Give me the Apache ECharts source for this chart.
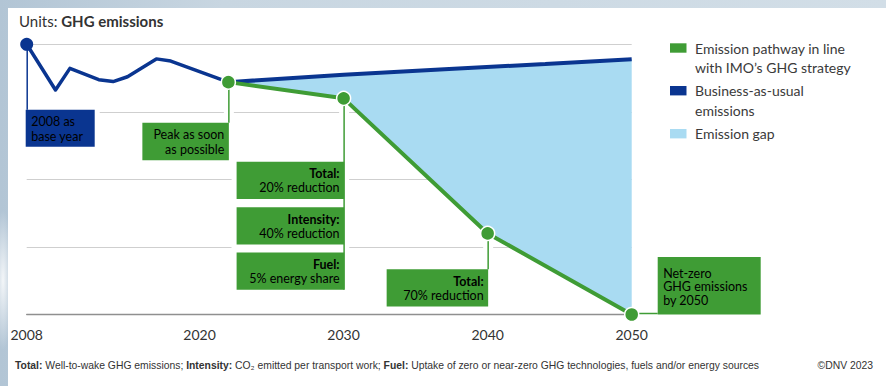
<!DOCTYPE html>
<html>
<head>
<meta charset="utf-8">
<script src="https://cdn.jsdelivr.net/npm/echarts@6/dist/echarts.min.js"></script>
<style>
  html, body { margin: 0; padding: 0; }
  body {
    width: 886px; height: 386px; overflow: hidden; position: relative;
    background:
      radial-gradient(ellipse 10px 70px at 3px 280px, rgba(255,255,255,0.85), rgba(255,255,255,0) 100%),
      linear-gradient(90deg, #b2c5d5 0%, #c8d6e1 25%, #d2dee7 100%);
  }
  #panel { position: absolute; left: 8px; top: 8px; right: 0; bottom: 0; background: #fff; }
  #chart { position: absolute; left: 0; top: 0; width: 886px; height: 386px; }
</style>
</head>
<body>
<div id="panel"></div>
<div id="chart"></div>
<script>
// Shipping GHG emissions, indexed to 2008 = 100
const bauHistory = [[2008, 100], [2010, 83.1], [2011, 91.1], [2013, 86.9], [2014, 86.2],
                    [2015, 88], [2017, 94.6], [2018, 93.8], [2022, 86]];
const bauProjection = [[2022, 86], [2030, 88.7], [2037, 90.8], [2044, 92.7], [2050, 94.5]];
const pathway = [[2022, 86], [2030, 80], [2040, 30], [2050, 0]];
const xTickYears = [2008, 2020, 2030, 2040, 2050];

// Annotation texts
const baseYearNote = ['2008 as', 'base year'];
const peakNote = ['Peak as soon', 'as possible'];
const target2030Notes = [['Total:', '20% reduction'], ['Intensity:', '40% reduction'], ['Fuel:', '5% energy share']];
const target2040Note = ['Total:', '70% reduction'];
const netZeroNote = ['Net-zero', 'GHG emissions', 'by 2050'];

const legendItems = [
  ['Emission pathway in line', 'with IMO\u2019s GHG strategy'],
  ['Business-as-usual', 'emissions'],
  ['Emission gap']
];

// Footnote segments: [bold?, text]
const footnoteParts = [
  [true, 'Total:'], [false, ' Well-to-wake GHG emissions; '],
  [true, 'Intensity:'], [false, ' CO\u2082 emitted per transport work; '],
  [true, 'Fuel:'], [false, ' Uptake of zero or near-zero GHG technologies, fuels and/or energy sources']
];
const copyrightText = '\u00a9DNV 2023';

const GREEN = '#3f9c35';
const NAVY = '#0a3590';
const GAP = '#a9dbf2';
const FONT = 'Lato, "Open Sans", sans-serif';
const NARROW = '"Liberation Sans Narrow", "Liberation Sans", sans-serif';
const NOTE_SIZE = 12.5;

// Fit the footnote to its line width whatever narrow face is available
const measureCtx = document.createElement('canvas').getContext('2d');
function footWidth(size) {
  return footnoteParts.reduce((w, p) => {
    measureCtx.font = (p[0] ? 'bold ' : '') + size + 'px ' + NARROW;
    return w + measureCtx.measureText(p[1]).width;
  }, 0);
}
const footSize = Math.min(11.5, 11 * 745 / footWidth(11));

// Callout layout, in pixels relative to the anchored point
const notes = [
  { point: bauHistory[0], color: NAVY, connector: 'down', align: 'left',
    boxes: [{ dx: -1, dy: 65.5, w: 69, h: 37, lines: baseYearNote, bold: false }] },
  { point: pathway[0], color: GREEN, connector: 'down', align: 'right',
    boxes: [{ dx: -86, dy: 40.7, w: 86.5, h: 37.3, lines: peakNote, bold: false }] },
  { point: pathway[1], color: GREEN, connector: 'down', align: 'right',
    boxes: target2030Notes.map((t, i) => ({ dx: -107, dy: 63.4 + i * 45.4, w: 107.5, h: 37.3, lines: t, bold: true })) },
  { point: pathway[2], color: GREEN, connector: 'down', align: 'right',
    boxes: [{ dx: -101, dy: 35.7, w: 101.5, h: 37.3, lines: target2040Note, bold: true }] },
  { point: pathway[3], color: GREEN, connector: 'right', align: 'left',
    boxes: [{ dx: 26, dy: -57.5, w: 103, h: 57.5, lines: netZeroNote, bold: false, lh: 13.4, first: 16.3 }] }
];

function renderNote(params, api) {
  const n = notes[params.dataIndex];
  const p = api.coord([api.value(0), api.value(1)]);
  const halos = [], marks = [];
  n.boxes.forEach(b => {
    const x = p[0] + b.dx, y = p[1] + b.dy;
    halos.push({ type: 'rect', shape: { x: x - 5, y: y - 5, width: b.w + 10, height: b.h + 10 },
                 style: { fill: '#fff' } });
    marks.push({ type: 'rect', shape: { x: x, y: y, width: b.w, height: b.h }, style: { fill: n.color } });
    const lh = b.lh || 14.2, first = b.first || 12;
    marks.push({ type: 'text', style: {
      text: b.lines.map((t, i) => '{' + (b.bold && i === 0 ? 'b' : 'r') + '|' + t + '}').join('\n'),
      x: n.align === 'right' ? x + b.w - 4.5 : x + 5.5,
      y: y + first - lh / 2,
      textAlign: n.align, textVerticalAlign: 'top',
      rich: {
        r: { fontFamily: FONT, fontSize: NOTE_SIZE, lineHeight: lh, color: '#ffffff' },
        b: { fontFamily: FONT, fontSize: NOTE_SIZE, fontWeight: 'bold', lineHeight: lh, color: '#ffffff' }
      }
    } });
  });
  const last = n.boxes[n.boxes.length - 1];
  let seg;
  if (n.connector === 'down') {
    const endY = n.boxes.length > 1 ? p[1] + last.dy + last.h : p[1] + last.dy;
    seg = { x1: p[0] + 0.5, y1: p[1], x2: p[0] + 0.5, y2: endY };
    halos.push({ type: 'line', shape: seg, style: { stroke: '#fff', lineWidth: 10 } });
  } else {
    seg = { x1: p[0], y1: p[1] - 1, x2: p[0] + last.dx, y2: p[1] - 1 };
  }
  const line = { type: 'line', shape: seg, style: { stroke: n.color, lineWidth: 1.5 } };
  return { type: 'group', children: halos.concat([line], marks) };
}

function renderGap(params, api) {
  const pts = bauProjection.map(d => api.coord(d))
    .concat(pathway.slice().reverse().map(d => api.coord(d)));
  return { type: 'polygon', shape: { points: pts }, style: { fill: GAP } };
}

// Legend drawn as swatches with wrapped labels
const legendGraphics = [];
const legendColors = [GREEN, NAVY, GAP];
const legendTops = [43.3, 86, 129];
legendItems.forEach((lines, i) => {
  legendGraphics.push({ type: 'rect', left: 670, top: legendTops[i],
    shape: { width: 16.5, height: 9.4 }, style: { fill: legendColors[i] } });
  legendGraphics.push({ type: 'text', left: 695, top: legendTops[i] - 4.9,
    style: { text: lines.join('\n'), font: '14px ' + FONT, lineHeight: 19.4, fill: '#3a3a3a' } });
});

const chart = echarts.init(document.getElementById('chart'), null, { renderer: 'svg' });
chart.setOption({
  animation: false,
  backgroundColor: 'transparent',
  title: [
    { left: 14, top: 8, text: '{a|Units: }{b|GHG emissions}',
      textStyle: { fontWeight: 'normal', rich: {
        a: { fontFamily: FONT, fontSize: 15, fontWeight: 'normal', color: '#333' },
        b: { fontFamily: FONT, fontSize: 15, fontWeight: 'bold', color: '#333' } } } },
    { left: 10, top: 355,
      text: footnoteParts.map(p => '{' + (p[0] ? 'b' : 'a') + '|' + p[1] + '}').join(''),
      textStyle: { fontWeight: 'normal', rich: {
        a: { fontFamily: NARROW, fontSize: footSize, fontWeight: 'normal', color: '#333' },
        b: { fontFamily: NARROW, fontSize: footSize, fontWeight: 'bold', color: '#333' } } } },
    { right: 8, top: 355, text: copyrightText,
      textStyle: { fontFamily: NARROW, fontSize: footSize, fontWeight: 'normal', color: '#333' } }
  ],
  graphic: legendGraphics,
  grid: { left: 26.7, right: 254.3, top: 44.3, bottom: 71.5 },
  xAxis: {
    type: 'value', min: 2008, max: 2050,
    axisLine: { show: true, lineStyle: { color: '#8f8f8f', width: 1.3 } },
    axisTick: { show: false },
    splitLine: { show: false },
    axisLabel: { customValues: xTickYears, margin: 13, color: '#333', fontSize: 14, fontFamily: FONT,
                 formatter: v => String(v) }
  },
  yAxis: {
    type: 'value', min: 0, max: 100, interval: 25,
    axisLine: { show: false }, axisTick: { show: false }, axisLabel: { show: false },
    splitLine: { lineStyle: { color: '#cfcfcf', width: 1 } }
  },
  series: [
    { type: 'custom', name: 'notes', z: 1, clip: false, silent: true,
      data: notes.map(n => n.point), renderItem: renderNote },
    { type: 'custom', name: 'Emission gap', z: 2, silent: true,
      data: [pathway[0]], renderItem: renderGap },
    { type: 'line', name: 'Business-as-usual emissions', z: 3, silent: true,
      data: bauHistory.map((d, i) => i === 0 ? { value: d, symbol: 'circle', symbolSize: 13 } : { value: d, symbol: 'none' }),
      showSymbol: true, itemStyle: { color: NAVY },
      lineStyle: { color: NAVY, width: 3.5, join: 'round' } },
    { type: 'line', name: 'Business-as-usual projection', z: 3, silent: true,
      data: bauProjection, symbol: 'none',
      lineStyle: { color: NAVY, width: 4 } },
    { type: 'line', name: 'Emission pathway', z: 4, silent: true,
      data: pathway, symbol: 'circle', symbolSize: 14, showSymbol: true,
      itemStyle: { color: GREEN, borderColor: '#fff', borderWidth: 1.5 },
      lineStyle: { color: GREEN, width: 4 } }
  ]
});
</script>
</body>
</html>
